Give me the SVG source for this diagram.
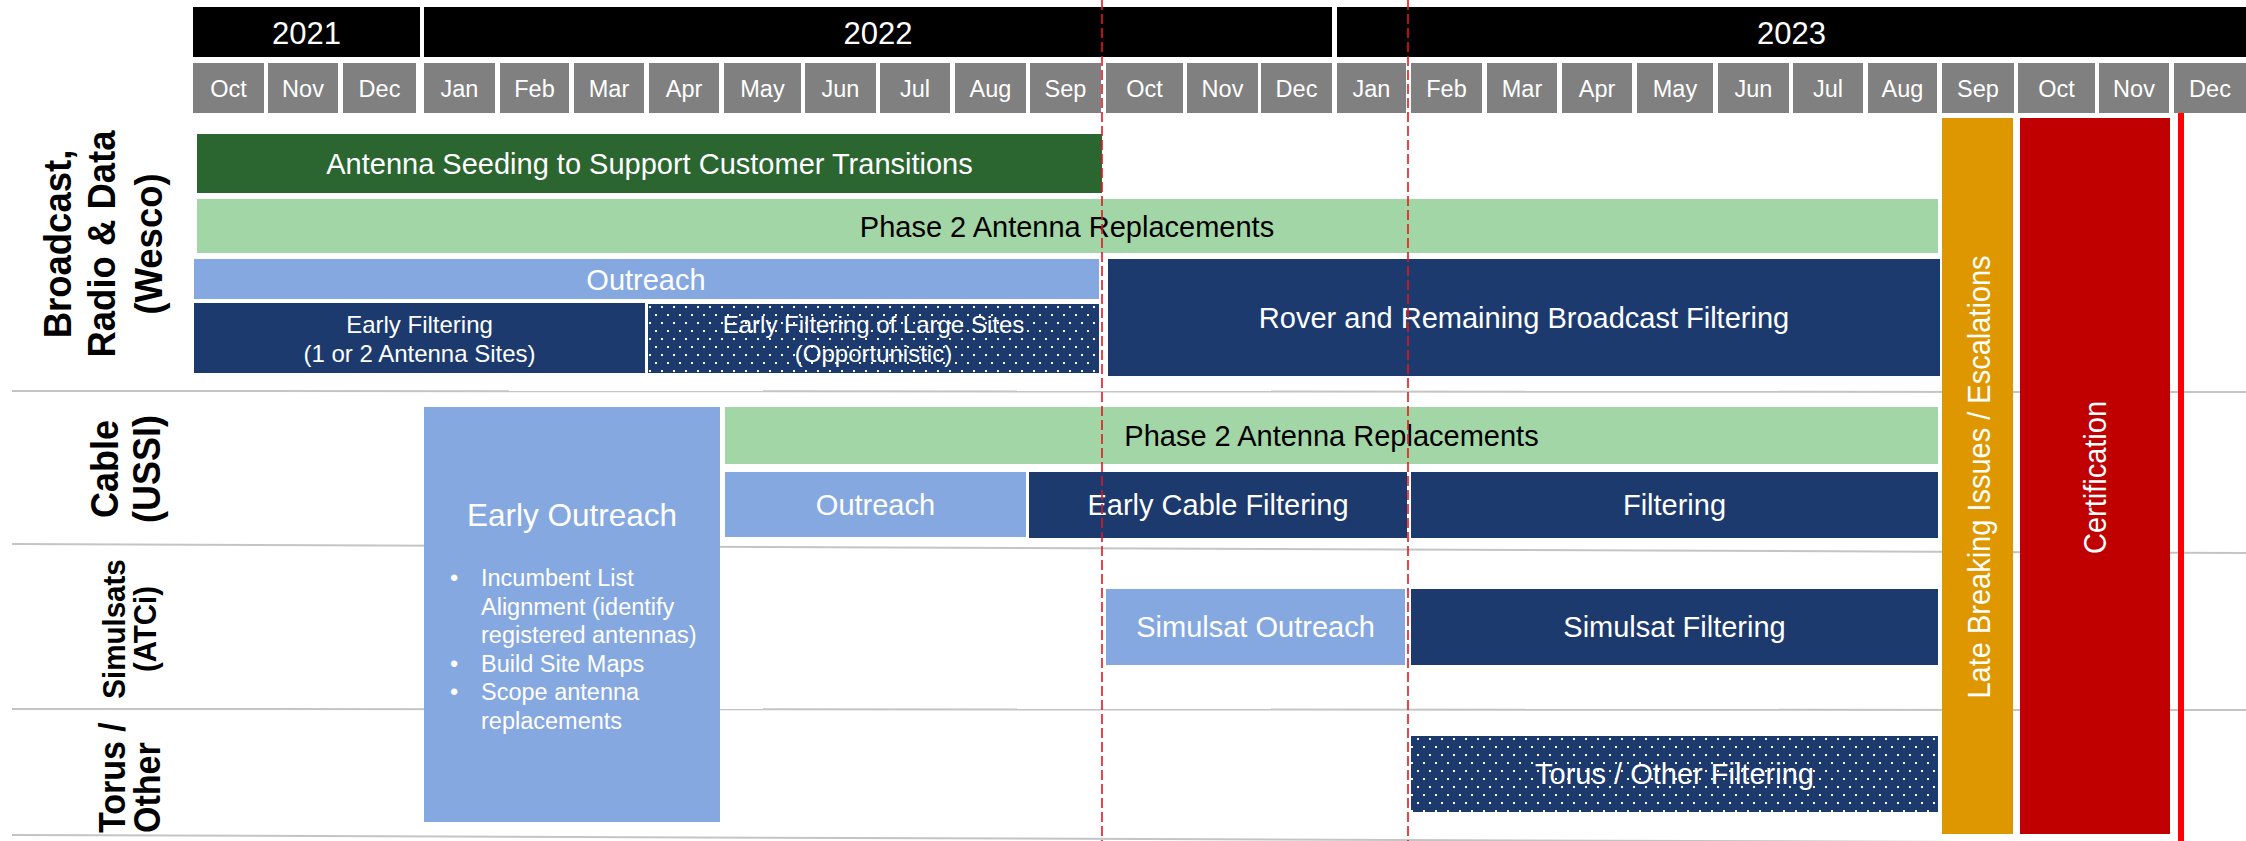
<svg xmlns="http://www.w3.org/2000/svg" width="2246" height="841" viewBox="0 0 2246 841">
<style>
text{font-family:"Liberation Sans",Arial,Helvetica,sans-serif}
.yr{fill:#000}
.mo{fill:#808080}
.yt{fill:#fff;font-size:31px;text-anchor:middle}
.mt{fill:#fff;font-size:23.5px;text-anchor:middle}
.dg{fill:#2b6530}
.lg{fill:#a3d6a6}
.lb{fill:#86a8e0}
.nv{fill:#1c3a6e}
.w{fill:#fff;font-size:29px;text-anchor:middle}
.k{fill:#000;font-size:29px;text-anchor:middle}
.s{fill:#fff;font-size:24px;text-anchor:middle}
.b{fill:#fff;font-size:23.5px}
.lab{fill:#000;font-weight:bold;text-anchor:middle}
.grid{stroke:#c4c4c4;stroke-width:2;fill:none}
.dash{stroke:#e8161b;stroke-width:1.6;stroke-dasharray:10 4;fill:none}
</style>
<defs>
<pattern id="dots" patternUnits="userSpaceOnUse" width="12" height="16">
<rect width="12" height="16" fill="#1c3a6e"/>
<rect x="1" y="2" width="2" height="2" fill="#fff"/>
<rect x="7" y="10" width="2" height="2" fill="#fff"/>
</pattern>
</defs>
<rect width="2246" height="841" fill="#fff"/>

<g id="grid-lines">
<line class="grid" x1="12" y1="391" x2="2246" y2="392"/>
<line class="grid" x1="12" y1="544" x2="2246" y2="553"/>
<line class="grid" x1="12" y1="709" x2="2246" y2="710"/>
<line class="grid" x1="12" y1="835" x2="2246" y2="843"/>
</g>

<g id="years">
<rect class="yr" x="193" y="7" width="227" height="50"/>
<rect class="yr" x="424" y="7" width="908" height="50"/>
<rect class="yr" x="1337" y="7" width="909" height="50"/>
<text class="yt" x="306.5" y="43.5">2021</text>
<text class="yt" x="878" y="43.5">2022</text>
<text class="yt" x="1791.5" y="43.5">2023</text>
</g>

<g id="months">
<rect class="mo" x="193" y="63" width="71" height="50"/><text class="mt" x="228.5" y="96.5">Oct</text>
<rect class="mo" x="268" y="63" width="70" height="50"/><text class="mt" x="303" y="96.5">Nov</text>
<rect class="mo" x="343" y="63" width="73" height="50"/><text class="mt" x="379.5" y="96.5">Dec</text>
<rect class="mo" x="424" y="63" width="71" height="50"/><text class="mt" x="459.5" y="96.5">Jan</text>
<rect class="mo" x="500" y="63" width="69" height="50"/><text class="mt" x="534.5" y="96.5">Feb</text>
<rect class="mo" x="574" y="63" width="70" height="50"/><text class="mt" x="609" y="96.5">Mar</text>
<rect class="mo" x="649" y="63" width="70" height="50"/><text class="mt" x="684" y="96.5">Apr</text>
<rect class="mo" x="724" y="63" width="77" height="50"/><text class="mt" x="762.5" y="96.5">May</text>
<rect class="mo" x="805" y="63" width="71" height="50"/><text class="mt" x="840.5" y="96.5">Jun</text>
<rect class="mo" x="880" y="63" width="70" height="50"/><text class="mt" x="915" y="96.5">Jul</text>
<rect class="mo" x="955" y="63" width="71" height="50"/><text class="mt" x="990.5" y="96.5">Aug</text>
<rect class="mo" x="1030" y="63" width="71" height="50"/><text class="mt" x="1065.5" y="96.5">Sep</text>
<rect class="mo" x="1106" y="63" width="77" height="50"/><text class="mt" x="1144.5" y="96.5">Oct</text>
<rect class="mo" x="1187" y="63" width="71" height="50"/><text class="mt" x="1222.5" y="96.5">Nov</text>
<rect class="mo" x="1261" y="63" width="71" height="50"/><text class="mt" x="1296.5" y="96.5">Dec</text>
<rect class="mo" x="1337" y="63" width="69" height="50"/><text class="mt" x="1371.5" y="96.5">Jan</text>
<rect class="mo" x="1411" y="63" width="71" height="50"/><text class="mt" x="1446.5" y="96.5">Feb</text>
<rect class="mo" x="1487" y="63" width="70" height="50"/><text class="mt" x="1522" y="96.5">Mar</text>
<rect class="mo" x="1562" y="63" width="70" height="50"/><text class="mt" x="1597" y="96.5">Apr</text>
<rect class="mo" x="1637" y="63" width="76" height="50"/><text class="mt" x="1675" y="96.5">May</text>
<rect class="mo" x="1718" y="63" width="71" height="50"/><text class="mt" x="1753.5" y="96.5">Jun</text>
<rect class="mo" x="1793" y="63" width="70" height="50"/><text class="mt" x="1828" y="96.5">Jul</text>
<rect class="mo" x="1868" y="63" width="69" height="50"/><text class="mt" x="1902.5" y="96.5">Aug</text>
<rect class="mo" x="1942" y="63" width="72" height="50"/><text class="mt" x="1978" y="96.5">Sep</text>
<rect class="mo" x="2018" y="63" width="77" height="50"/><text class="mt" x="2056.5" y="96.5">Oct</text>
<rect class="mo" x="2099" y="63" width="70" height="50"/><text class="mt" x="2134" y="96.5">Nov</text>
<rect class="mo" x="2174" y="63" width="72" height="50"/><text class="mt" x="2210" y="96.5">Dec</text>
</g>

<g id="row-labels">
<text class="lab" font-size="36.5" transform="matrix(0 -1 1.07 0 70.5 244)">Broadcast,</text>
<text class="lab" font-size="36.5" transform="matrix(0 -1 1.07 0 115 244)">Radio &amp; Data</text>
<text class="lab" font-size="36.5" transform="matrix(0 -1 1.07 0 162 244)">(Wesco)</text>
<text class="lab" font-size="36" transform="matrix(0 -1 1.07 0 118 469)">Cable</text>
<text class="lab" font-size="36" transform="matrix(0 -1 1.07 0 160 469)">(USSI)</text>
<text class="lab" font-size="29.5" transform="matrix(0 -1 1.07 0 125 629)">Simulsats</text>
<text class="lab" font-size="29.5" transform="matrix(0 -1 1.07 0 155.5 629)">(ATCi)</text>
<text class="lab" font-size="34" style="text-anchor:start" transform="matrix(0 -1 1.07 0 125 833)">Torus /</text>
<text class="lab" font-size="34" style="text-anchor:start" transform="matrix(0 -1 1.07 0 160 833)">Other</text>
</g>

<g id="antenna-seeding">
<rect class="dg" x="197" y="134" width="905" height="59"/>
<text class="w" x="649.5" y="174">Antenna Seeding to Support Customer Transitions</text>
</g>
<g id="bcast-phase2">
<rect class="lg" x="197" y="199" width="1741" height="54"/>
<text class="k" x="1067" y="236.5">Phase 2 Antenna Replacements</text>
</g>
<g id="bcast-outreach">
<rect class="lb" x="194" y="259" width="905" height="40"/>
<text class="w" x="646" y="289.5">Outreach</text>
</g>
<g id="early-filtering">
<rect class="nv" x="194" y="303" width="451" height="70"/>
<text class="s" x="419.5" y="332.5">Early Filtering</text>
<text class="s" x="419.5" y="361.5">(1 or 2 Antenna Sites)</text>
</g>
<g id="early-filtering-large">
<rect fill="url(#dots)" x="648" y="304" width="451" height="69"/>
<text class="s" x="873.5" y="332.5">Early Filtering of Large Sites</text>
<text class="s" x="873.5" y="361.5">(Opportunistic)</text>
</g>
<g id="rover-filtering">
<rect class="nv" x="1108" y="259" width="832" height="117"/>
<text class="w" x="1524" y="327.5">Rover and Remaining Broadcast Filtering</text>
</g>

<g id="early-outreach">
<rect class="lb" x="424" y="407" width="296" height="415"/>
<text class="w" x="572" y="526" style="font-size:31.5px">Early Outreach</text>
<text class="b" x="450" y="586">•</text>
<text class="b" x="481" y="586">Incumbent List</text>
<text class="b" x="481" y="614.5">Alignment (identify</text>
<text class="b" x="481" y="643">registered antennas)</text>
<text class="b" x="450" y="671.5">•</text>
<text class="b" x="481" y="671.5">Build Site Maps</text>
<text class="b" x="450" y="700">•</text>
<text class="b" x="481" y="700">Scope antenna</text>
<text class="b" x="481" y="728.5">replacements</text>
</g>
<g id="cable-phase2">
<rect class="lg" x="725" y="407" width="1213" height="57"/>
<text class="k" x="1331.5" y="446">Phase 2 Antenna Replacements</text>
</g>
<g id="cable-outreach">
<rect class="lb" x="725" y="472" width="301" height="65"/>
<text class="w" x="875.5" y="515">Outreach</text>
</g>
<g id="early-cable-filtering">
<rect class="nv" x="1029" y="472" width="378" height="66"/>
<text class="w" x="1218" y="515">Early Cable Filtering</text>
</g>
<g id="cable-filtering">
<rect class="nv" x="1411" y="472" width="527" height="66"/>
<text class="w" x="1674.5" y="515">Filtering</text>
</g>

<g id="simulsat-outreach">
<rect class="lb" x="1106" y="589" width="299" height="76"/>
<text class="w" x="1255.5" y="637">Simulsat Outreach</text>
</g>
<g id="simulsat-filtering">
<rect class="nv" x="1411" y="589" width="527" height="76"/>
<text class="w" x="1674.5" y="637">Simulsat Filtering</text>
</g>

<g id="torus-filtering">
<rect fill="url(#dots)" x="1411" y="736" width="527" height="76"/>
<text class="w" x="1674.5" y="784">Torus / Other Filtering</text>
</g>

<g id="late-breaking">
<rect fill="#df9700" x="1942" y="118" width="71" height="716"/>
<text class="w" transform="matrix(0 -1 1.08 0 1990 477)">Late Breaking Issues / Escalations</text>
</g>
<g id="certification">
<rect fill="#c00000" x="2020" y="118" width="150" height="716"/>
<text class="w" transform="matrix(0 -1 1.08 0 2106 477.5)">Certification</text>
</g>

<g id="connectors">
<line class="dash" x1="1102" y1="0" x2="1102" y2="841"/>
<line class="dash" x1="1408" y1="0" x2="1408" y2="841"/>
<rect fill="#ff0000" x="2178" y="113" width="6" height="728"/>
</g>
</svg>
